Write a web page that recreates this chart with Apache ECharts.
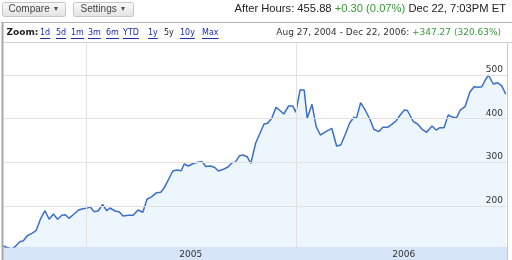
<!DOCTYPE html>
<html>
<head>
<meta charset="utf-8">
<script src="https://cdn.jsdelivr.net/npm/echarts@6/dist/echarts.min.js"></script>
<style>
html,body{margin:0;padding:0;background:#fff;}
#c{width:512px;height:260px;}
</style>
</head>
<body>
<div id="c"></div>
<script>
// ---- data ----
// x position of each weekly close, in days from the start of the range
const days = [0,6,15,20,28,34,40,48,55,63,70,77,84,91,98,104,110,118,126,133,140,145,152,159,166,173,178,187,194,200,209,217,225,233,240,248,256,263,268,276,283,290,297,302,309,318,327,332,338,346,353,359,367,375,382,387,394,400,407,413,421,427,435,441,448,455,462,468,476,483,488,495,502,507,515,522,529,538,548,556,563,570,578,585,589,596,603,612,618,626,633,641,648,655,662,669,674,684,691,698,706,715,722,728,735,742,750,756,762,770,778,785,792,798,803,809,812,817,824,831,838];
const prices = [108.4,105.4,101.5,106.8,118.3,120.5,131.3,137.5,143.4,171.8,189.2,169.6,181.7,169.6,178.7,180.1,171.8,181.0,190.8,193.8,194.7,198.4,187.0,189.2,203.9,189.2,195.4,188.6,186.3,177.1,178.7,178.7,190.8,185.6,215.4,221.3,230.5,231.4,240.5,261.2,280.2,282.4,280.8,296.2,291.6,297.8,300.8,301.5,290.5,291.6,288.2,280.2,284.0,289.3,299.6,300.1,315.0,316.8,312.9,297.3,343.6,362.6,387.8,389.4,400.8,426.0,418.2,410.7,429.0,429.0,414.6,465.6,465.6,400.8,432.9,381.6,362.6,370.2,377.9,337.4,339.7,362.6,390.8,403.1,400.8,436.6,421.5,397.0,375.7,370.2,380.2,380.2,387.1,394.7,408.4,419.8,418.7,393.1,387.8,376.3,368.8,383.2,374.0,379.3,379.3,408.4,403.1,402.2,419.8,427.4,460.4,473.2,471.8,473.2,486.3,500.0,502.3,479.4,482.4,475.5,455.88];
const yTicks = [200, 300, 400, 500];
const yearStarts = [138, 488];
const yearLabelPos = [313, 668];
const yearLabels = ['2005', '2006'];
const dayMax = 840;
const yMin = 106.1, yMax = 573.3;

const zoomLinks = ['1d','5d','1m','3m','6m','YTD','1y','5y','10y','Max'];
const zoomLinkX = [40,56,71,88,106,123,148,164,180,202];
const zoomSelected = '5y';

// ---- helpers ----
const ctx = document.createElement('canvas').getContext('2d');
function tw(text, font){ ctx.font = font; return ctx.measureText(text).width; }

const chart = echarts.init(document.getElementById('c'), null, {renderer:'canvas'});

const seriesData = days.map((d,i)=>[d, prices[i]]);

const graphics = [];
// band under plot
graphics.push({type:'rect', z:-10, shape:{x:3,y:247,width:504,height:13}, style:{fill:'#d6e5f8'}});
// chart frame
graphics.push({type:'line', z:5, shape:{x1:2,y1:22.5,x2:512,y2:22.5}, style:{stroke:'#b4b4b4',lineWidth:1}});
graphics.push({type:'line', z:5, shape:{x1:2.5,y1:22,x2:2.5,y2:260}, style:{stroke:'#a6a6a6',lineWidth:2}});
graphics.push({type:'line', z:5, shape:{x1:3,y1:42.5,x2:512,y2:42.5}, style:{stroke:'#d0d0d0',lineWidth:1}});
graphics.push({type:'line', z:5, shape:{x1:507.5,y1:43,x2:507.5,y2:260}, style:{stroke:'#c8c8c8',lineWidth:1}});

// buttons
function button(x, w, label){
  graphics.push({type:'rect', z:5, shape:{x:x+0.5,y:2.5,width:w,height:14,r:2},
    style:{fill:new echarts.graphic.LinearGradient(0,0,0,1,[{offset:0,color:'#fbfbfb'},{offset:1,color:'#e2e2e2'}]), stroke:'#c6c6c6', lineWidth:1}});
  graphics.push({type:'text', z:6, style:{x:x+w/2+0.5, y:9.5, text:label+' {t|▼}', align:'center', verticalAlign:'middle',
    font:'10px "Liberation Sans", Arial, sans-serif', fill:'#444', rich:{t:{fontSize:7, fill:'#555'}}}});
}
button(2, 63, 'Compare');
button(73, 60, 'Settings');

// after hours header
graphics.push({type:'text', z:6, style:{x:506, y:9, align:'right', verticalAlign:'middle',
  text:'After Hours: 455.88 {g|+0.30 (0.07%)} Dec 22, 7:03PM ET',
  font:'11.2px "Liberation Sans", Arial, sans-serif', fill:'#222',
  rich:{g:{fill:'#3a9a3a', fontSize:11.2, fontFamily:'"Liberation Sans", Arial, sans-serif'}}}});

// zoom row
graphics.push({type:'text', z:6, style:{x:6.5, y:33, verticalAlign:'middle', text:'Zoom:',
  font:'bold 9px "DejaVu Sans", sans-serif', fill:'#222'}});
const linkFont = '8px "DejaVu Sans", sans-serif';
zoomLinks.forEach((t,i)=>{
  const sel = t === zoomSelected;
  graphics.push({type:'text', z:6, style:{x:zoomLinkX[i], y:33, verticalAlign:'middle', text:t, font:linkFont, fill: sel ? '#222' : '#1c2fa8'}});
  if(!sel){
    const w = tw(t, linkFont);
    graphics.push({type:'line', z:6, shape:{x1:zoomLinkX[i], y1:38.5, x2:zoomLinkX[i]+w, y2:38.5}, style:{stroke:'#1c2fa8', lineWidth:1}});
  }
});
graphics.push({type:'text', z:6, style:{x:501, y:33, align:'right', verticalAlign:'middle',
  text:'Aug 27, 2004 - Dec 22, 2006: {g|+347.27 (320.63%)}',
  font:'9px "DejaVu Sans", sans-serif', fill:'#333',
  rich:{g:{fill:'#3a9a3a', fontSize:9, fontFamily:'"DejaVu Sans", sans-serif'}}}});

const option = {
  animation:false,
  backgroundColor:'#fff',
  grid:{left:3, right:5, top:43, bottom:13, containLabel:false},
  xAxis:{
    type:'value', min:0, max:dayMax,
    axisLine:{show:false},
    splitLine:{show:false},
    axisTick:{show:true, inside:true, length:3, customValues:yearStarts, lineStyle:{color:'#888'}},
    axisLabel:{show:true, customValues:yearLabelPos, margin:3,
      formatter:(v)=>{ const k = yearLabelPos.indexOf(v); return k>=0 ? yearLabels[k] : ''; },
      color:'#333', fontSize:9, fontFamily:'"DejaVu Sans", sans-serif'}
  },
  yAxis:{
    type:'value', min:yMin, max:yMax,
    axisLine:{show:false}, axisTick:{show:false}, axisLabel:{show:false}, splitLine:{show:false}
  },
  series:[
    {
      type:'line', z:1, data:seriesData, showSymbol:false, silent:true,
      lineStyle:{opacity:0}, 
      markLine:{
        silent:true, symbol:['none','none'], animation:false,
        lineStyle:{type:'solid', color:'#e2e2e2', width:1},
        label:{show:false},
        data: yTicks.map(v=>({yAxis:v, label:{show:true, position:'insideEndTop', distance:[4,1], formatter:String(v),
                color:'#333', fontSize:9, fontFamily:'"DejaVu Sans", sans-serif'}}))
          .concat(yearStarts.map(v=>({xAxis:v, label:{show:false}})))
      }
    },
    {
      type:'line', z:3, data:seriesData, showSymbol:false, silent:true,
      lineStyle:{color:'#3b6fc6', width:1.5},
      areaStyle:{color:'#eef6fd', opacity:1}
    }
  ],
  graphic:graphics
};
chart.setOption(option);
</script>
</body>
</html>
